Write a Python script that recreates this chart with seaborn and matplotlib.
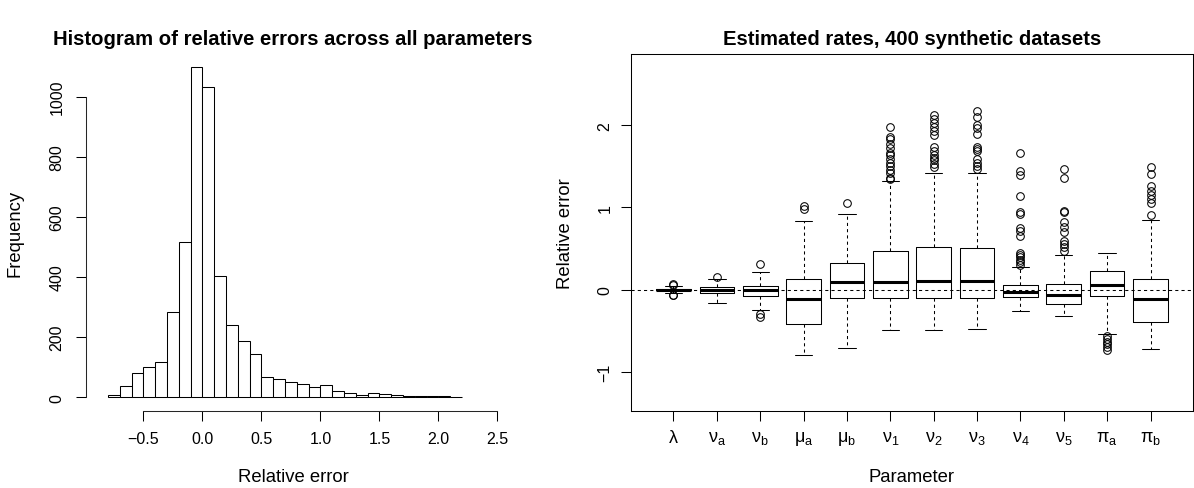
import numpy as np
import pandas as pd
import matplotlib
matplotlib.use('Agg')
import matplotlib.pyplot as plt
import seaborn as sns

# Histogram: counts per bin of width 0.1, from -0.8 to 2.2
hist_lo, hist_hi, bin_w = -0.8, 2.2, 0.1
counts = [9, 39, 82, 101, 119, 283, 518, 1099, 1033, 402, 241, 188, 143, 67, 61,
          51, 43, 33, 42, 20, 13, 7, 13, 10, 7, 3, 3, 4, 3, 1]

# Boxplots: relative error per parameter
params = [r'$\mathregular{\lambda}$', r'$\mathregular{\nu_a}$', r'$\mathregular{\nu_b}$',
          r'$\mathregular{\mu_a}$', r'$\mathregular{\mu_b}$', r'$\mathregular{\nu_1}$',
          r'$\mathregular{\nu_2}$', r'$\mathregular{\nu_3}$', r'$\mathregular{\nu_4}$',
          r'$\mathregular{\nu_5}$', r'$\mathregular{\pi_a}$', r'$\mathregular{\pi_b}$']
medians = [0.0, 0.0, -0.01, -0.12, 0.093, 0.093, 0.10, 0.10, -0.032, -0.06, 0.053, -0.113]
q1 = [-0.01, -0.045, -0.077, -0.417, -0.097, -0.097, -0.105, -0.105, -0.093, -0.174, -0.081, -0.397]
q3 = [0.01, 0.036, 0.045, 0.134, 0.32, 0.474, 0.518, 0.51, 0.053, 0.069, 0.223, 0.126]
whis_lo = [-0.04, -0.16, -0.25, -0.80, -0.705, -0.498, -0.494, -0.482, -0.255, -0.316, -0.538, -0.721]
whis_hi = [0.04, 0.13, 0.21, 0.834, 0.915, 1.328, 1.425, 1.421, 0.275, 0.421, 0.441, 0.846]
outliers = [
    [0.065, 0.06, -0.06, -0.065],
    [0.155],
    [0.31, -0.30, -0.33],
    [1.016, 0.98],
    [1.057],
    [1.976, 1.862, 1.838, 1.777, 1.725, 1.668, 1.636, 1.587, 1.547, 1.506, 1.457, 1.417, 1.364, 1.344],
    [2.121, 2.073, 2.032, 1.984, 1.931, 1.879, 1.741, 1.688, 1.636, 1.607, 1.579, 1.526, 1.498],
    [2.17, 2.101, 2.0, 1.972, 1.899, 1.737, 1.708, 1.688, 1.587, 1.547, 1.506, 1.466],
    [1.668, 1.445, 1.393, 1.138, 0.947, 0.919, 0.749, 0.717, 0.656, 0.445, 0.421, 0.393, 0.364, 0.332, 0.30],
    [1.474, 1.364, 0.96, 0.939, 0.818, 0.757, 0.696, 0.595, 0.555, 0.514, 0.474],
    [-0.567, -0.599, -0.632, -0.664, -0.70, -0.733],
    [1.494, 1.405, 1.263, 1.202, 1.15, 1.101, 1.053, 0.911],
]

sns.set_theme(style='white')
plt.rcParams['font.family'] = ['Liberation Sans', 'DejaVu Sans']
plt.rcParams['axes.linewidth'] = 0.75

W, H = 1194, 489
fig = plt.figure(figsize=(W / 100, H / 100), dpi=100)

def px_axes(x0, x1, y0, y1):
    return fig.add_axes([x0 / W, 1 - y1 / H, (x1 - x0) / W, (y1 - y0) / H])

tick_fs, label_fs, title_fs = 11.5, 13.3, 14.6

# ---- left: histogram
ax1 = px_axes(86, 500, 55, 412)
hist_df = pd.DataFrame({'center': hist_lo + bin_w * (np.arange(len(counts)) + 0.5),
                        'count': counts})
sns.histplot(data=hist_df, x='center', weights='count', binwidth=bin_w,
             binrange=(hist_lo, hist_hi), ax=ax1, color='white',
             edgecolor='black', linewidth=0.75, alpha=1)
ax1.set_xlim(-0.986, 2.522)
ax1.set_ylim(-45.6, 1142)
for s in ['top', 'right']:
    ax1.spines[s].set_visible(False)
ax1.spines['left'].set_bounds(0, 1000)
ax1.spines['bottom'].set_bounds(-0.5, 2.5)
ax1.set_xticks([-0.5, 0.0, 0.5, 1.0, 1.5, 2.0, 2.5])
ax1.set_xticklabels(['\u22120.5', '0.0', '0.5', '1.0', '1.5', '2.0', '2.5'])
ax1.set_yticks([0, 200, 400, 600, 800, 1000])
ax1.tick_params(axis='both', length=7.2, width=0.75, color='black', labelsize=tick_fs,
                labelcolor='black', direction='out')
ax1.tick_params(axis='x', pad=7.5, bottom=True)
ax1.tick_params(axis='y', pad=8.4, left=True)
plt.setp(ax1.get_yticklabels(), rotation=90, va='center')
ax1.set_xlabel('Relative error', fontsize=label_fs, color='black', va='center')
ax1.xaxis.set_label_coords(0.5, (412 - 478) / 357)
ax1.set_ylabel('Frequency', fontsize=label_fs, color='black', va='center')
ax1.yaxis.set_label_coords((15 - 86) / 414, 0.5)
ax1.set_title('Histogram of relative errors across all parameters', fontsize=title_fs,
              fontweight='bold', color='black', pad=7)

# ---- right: boxplots
ax2 = px_axes(631, 1193, 55, 412)
stats = []
for i in range(len(params)):
    stats.append(dict(med=medians[i], q1=q1[i], q3=q3[i], whislo=whis_lo[i],
                      whishi=whis_hi[i], fliers=outliers[i], label=params[i]))
positions = list(range(1, len(params) + 1))
ax2.bxp(stats, positions=positions, widths=0.8, capwidths=0.4, showfliers=True,
        boxprops=dict(color='black', linewidth=0.75),
        medianprops=dict(color='black', linewidth=2.2, solid_capstyle='butt'),
        whiskerprops=dict(color='black', linewidth=0.75, linestyle=(0, (3, 3))),
        capprops=dict(color='black', linewidth=0.75),
        flierprops=dict(marker='o', markerfacecolor='none', markeredgecolor='black',
                        markersize=5.5, markeredgewidth=0.75, linestyle='none'))
ax2.axhline(0, color='black', linewidth=0.75, linestyle=(0, (3, 3)), zorder=3)
ax2.set_xlim(0.02, 12.98)
ax2.set_ylim(-1.478, 2.868)
for s in ax2.spines.values():
    s.set_color('black')
ax2.set_xticks(positions)
ax2.set_xticklabels(params)
ax2.set_yticks([-1, 0, 1, 2])
ax2.tick_params(axis='both', length=7.2, width=0.75, color='black', labelsize=tick_fs,
                labelcolor='black', direction='out')
ax2.tick_params(axis='x', pad=5.5, bottom=True, labelsize=13)
ax2.tick_params(axis='y', pad=6, left=True)
plt.setp(ax2.get_yticklabels(), rotation=90, va='center')
ax2.set_xlabel('Parameter', fontsize=label_fs, color='black', va='center')
ax2.xaxis.set_label_coords(0.5, (412 - 478) / 357)
ax2.set_ylabel('Relative error', fontsize=label_fs, color='black', va='center')
ax2.yaxis.set_label_coords((565 - 631) / 562, 0.5)
ax2.set_title('Estimated rates, 400 synthetic datasets', fontsize=title_fs,
              fontweight='bold', color='black', pad=7)

fig.savefig('out.png', dpi=100, facecolor='white')
